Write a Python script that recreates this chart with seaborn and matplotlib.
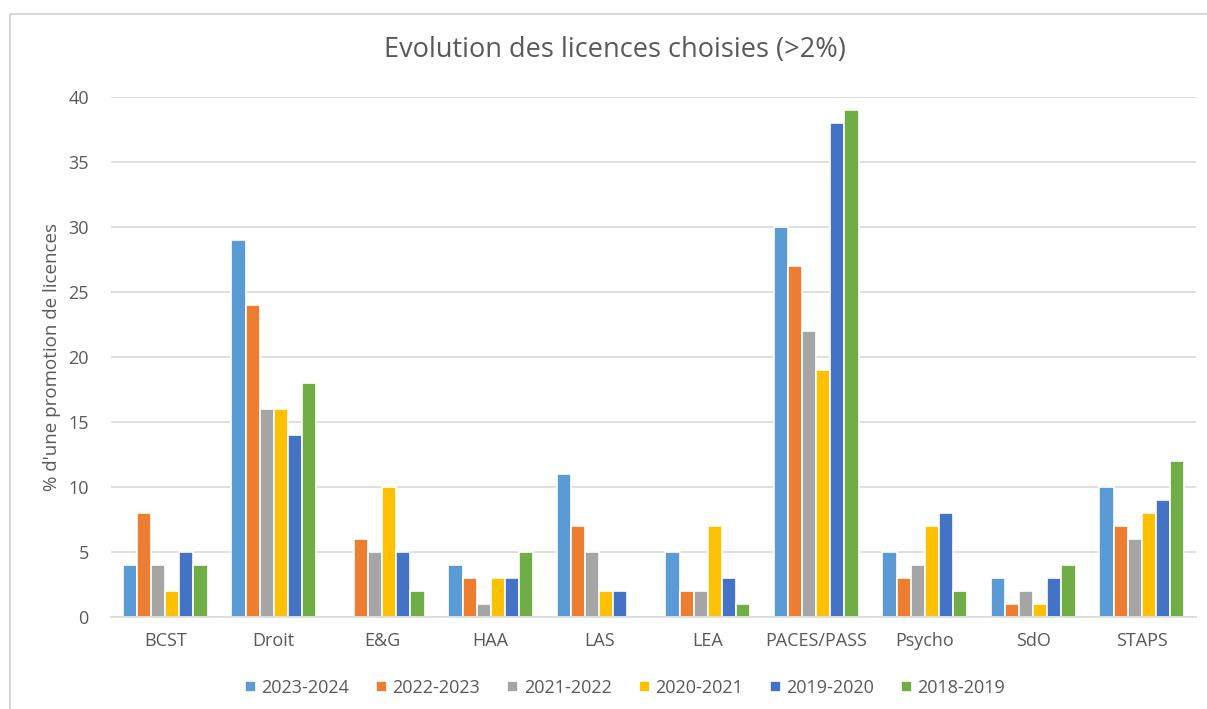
import matplotlib
matplotlib.use("Agg")
import matplotlib.pyplot as plt
import seaborn as sns
import pandas as pd
import numpy as np
from matplotlib.patches import Rectangle

categories = ["BCST", "Droit", "E&G", "HAA", "LAS", "LEA", "PACES/PASS", "Psycho", "SdO", "STAPS"]
years = ["2023-2024", "2022-2023", "2021-2022", "2020-2021", "2019-2020", "2018-2019"]
v_2023_2024 = [4, 29, np.nan, 4, 11, 5, 30, 5, 3, 10]
v_2022_2023 = [8, 24, 6, 3, 7, 2, 27, 3, 1, 7]
v_2021_2022 = [4, 16, 5, 1, 5, 2, 22, 4, 2, 6]
v_2020_2021 = [2, 16, 10, 3, 2, 7, 19, 7, 1, 8]
v_2019_2020 = [5, 14, 5, 3, 2, 3, 38, 8, 3, 9]
v_2018_2019 = [4, 18, 2, 5, np.nan, 1, 39, 2, 4, 12]
colors = ["#5B9BD5", "#ED7D31", "#A5A5A5", "#FFC000", "#4472C4", "#70AD47"]

series = [v_2023_2024, v_2022_2023, v_2021_2022, v_2020_2021, v_2019_2020, v_2018_2019]
rows = []
for y, vals in zip(years, series):
    for c, v in zip(categories, vals):
        rows.append({"cat": c, "year": y, "val": v})
df = pd.DataFrame(rows)

sns.set_theme(style="white")
plt.rcParams["font.family"] = ["Open Sans", "DejaVu Sans"]
txt = "#595959"

fig = plt.figure(figsize=(12.07, 7.09), dpi=100)
ax = fig.add_axes([111/1207, 1-617/709, (1196-111)/1207, (617-97)/709])

sns.barplot(data=df, x="cat", y="val", hue="year", hue_order=years, order=categories,
            palette=colors, width=0.78, edgecolor="white", linewidth=1.2,
            errorbar=None, ax=ax, saturation=1)

ax.set_ylim(0, 40)
ax.set_xlim(-0.5, len(categories) - 0.5)
ax.set_yticks(range(0, 41, 5))
ax.yaxis.grid(True, color="#D9D9D9", linewidth=1.2)
ax.set_axisbelow(True)
for s in ["top", "right", "left"]:
    ax.spines[s].set_visible(False)
ax.spines["bottom"].set_color("#D9D9D9")
ax.spines["bottom"].set_linewidth(1.2)
ax.tick_params(axis="both", length=0, labelsize=13, colors=txt)
ax.tick_params(axis="y", pad=16)
ax.tick_params(axis="x", pad=11)
ax.set_xlabel("")
ax.set_ylabel("% d'une promotion de licences", fontsize=13.5, color=txt, labelpad=5)

fig.text(615/1207, 1-50/709, "Evolution des licences choisies (>2%)", ha="center", va="center",
         fontsize=19.5, color=txt)

handles, labels = ax.get_legend_handles_labels()
ax.legend(handles, labels, loc="center", bbox_to_anchor=(625/1207, 1-688/709),
          bbox_transform=fig.transFigure, ncol=6, frameon=False, fontsize=13,
          handlelength=0.6, handleheight=0.6, handletextpad=0.3, columnspacing=1.5,
          labelcolor=txt)

fig.patches.append(Rectangle((10/1207, -0.05), 1.2, 1-14/709+0.05, transform=fig.transFigure,
                             fill=False, edgecolor="#D9D9D9", linewidth=1.5, figure=fig))

fig.savefig("out.png", dpi=100)
